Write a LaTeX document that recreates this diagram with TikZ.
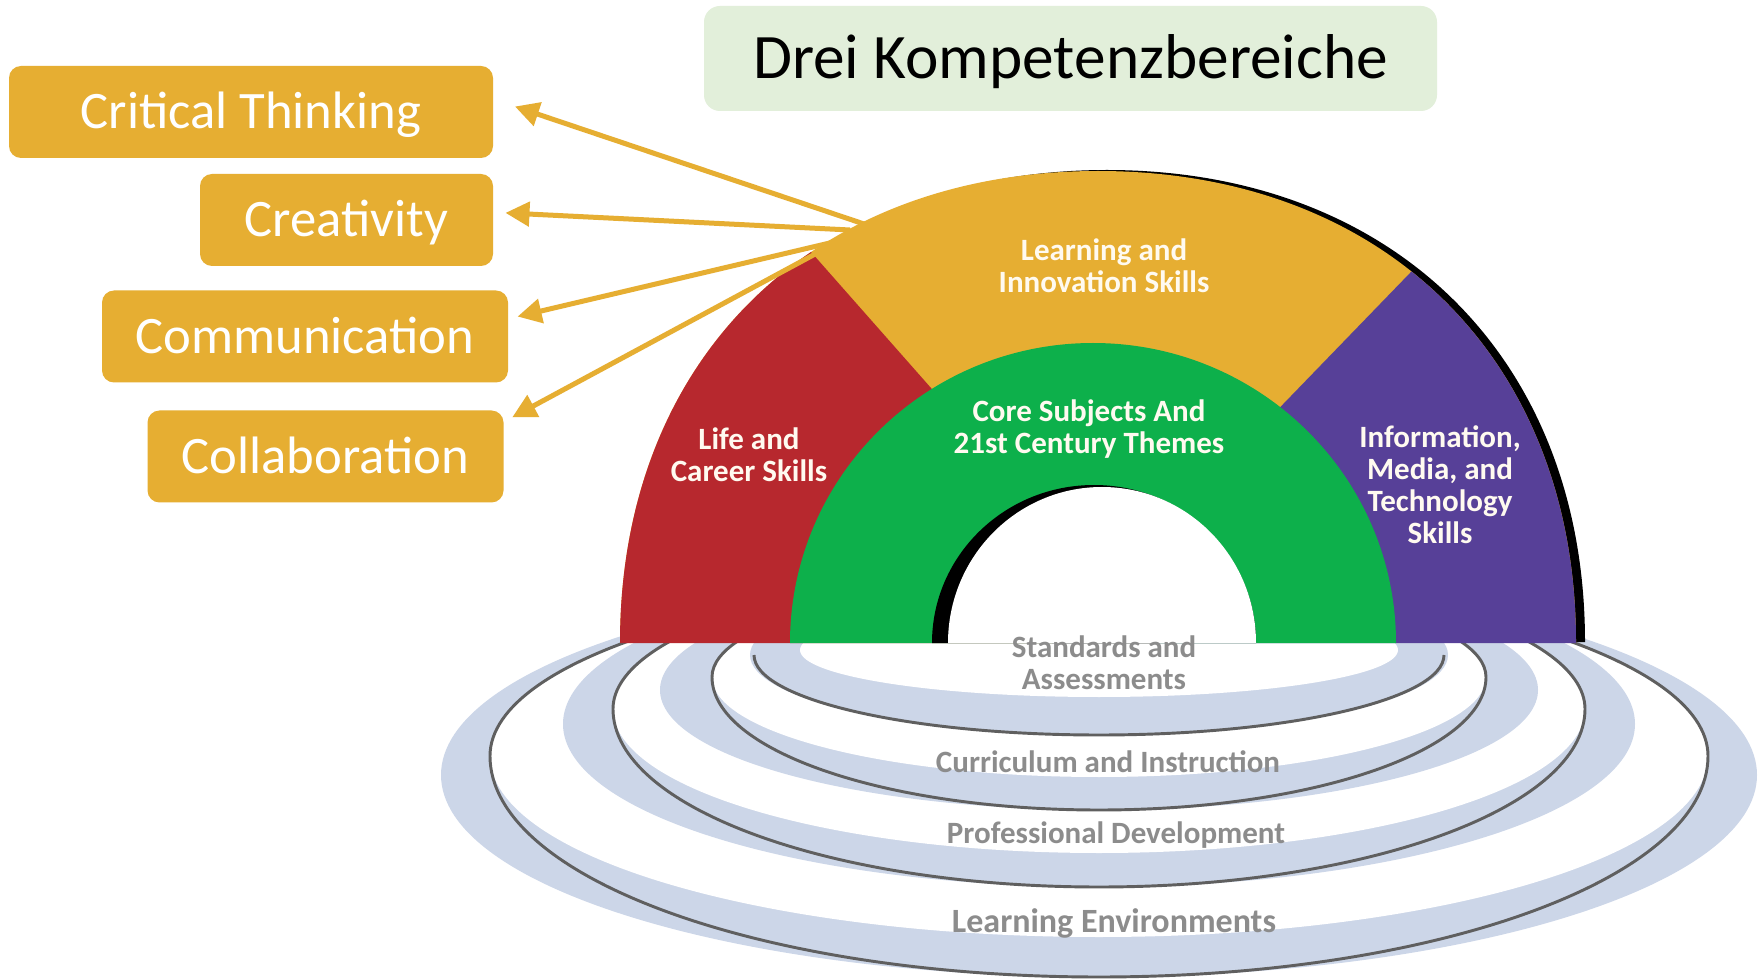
\documentclass[tikz,border=0pt]{standalone}
\usepackage{fontspec}
\setmainfont{Carlito}
\usetikzlibrary{arrows.meta}

\tikzset{every picture/.style={line width=0.75pt}}
\tikzset{
  skillbox/.style={fill={rgb, 255:red, 230; green, 174; blue, 50 }, rounded corners=9pt, inner sep=0pt, minimum height=69pt, text=white, font=\fontsize{39.5}{44}\selectfont, text height=25.4pt, text depth=0pt},
  headbox/.style={fill={rgb, 255:red, 226; green, 239; blue, 218 }, rounded corners=12pt, inner sep=0pt, minimum width=549.75pt, minimum height=78.75pt, font=\fontsize{47.5}{52}\selectfont, text height=30.6pt, text depth=0pt},
  archtext/.style={text={rgb, 255:red, 255; green, 250; blue, 240 }, align=center, inner sep=0pt, font=\fontsize{23.25}{24}\selectfont\bfseries},
  ringtext/.style={text={rgb, 255:red, 140; green, 140; blue, 140 }, align=center, inner sep=0pt, font=\fontsize{23.25}{24}\selectfont\bfseries},
  pointer/.style={draw={rgb, 255:red, 230; green, 174; blue, 50 }, fill={rgb, 255:red, 230; green, 174; blue, 50 }, line width=3.75pt, -{Triangle[length=18pt,width=18pt]}},
  ringfill/.style={fill={rgb, 255:red, 204; green, 214; blue, 232 }},
  ringedge/.style={draw={rgb, 255:red, 95; green, 95; blue, 95 }, line width=2.2pt},
}

\begin{document}
\begin{tikzpicture}[x=0.75pt,y=0.75pt,yscale=-1,xscale=1]
\useasboundingbox (0,0) rectangle (1761,980);
\fill [white] (0,0) rectangle (1761,980);

%Shape: Ring [Learning Environments]
\fill [ringfill] (1099,775) ellipse [x radius=658, y radius=202];
\fill [white] (1099,756) ellipse [x radius=609, y radius=181];
\draw [ringedge] (490,756) arc [start angle=180, end angle=0, x radius=609, y radius=221] arc [start angle=0, end angle=-180, x radius=609, y radius=181];
%Shape: Ring [Professional Development]
\fill [ringfill] (1099,724) ellipse [x radius=536, y radius=163];
\fill [white] (1099,709) ellipse [x radius=486, y radius=144];
\draw [ringedge] (613,709) arc [start angle=180, end angle=0, x radius=486, y radius=178] arc [start angle=0, end angle=-180, x radius=486, y radius=144];
%Shape: Ring [Curriculum and Instruction]
\fill [ringfill] (1099,690) ellipse [x radius=439, y radius=120];
\fill [white] (1099,677) ellipse [x radius=387, y radius=100];
\draw [ringedge] (712,677) arc [start angle=180, end angle=0, x radius=387, y radius=133] arc [start angle=0, end angle=-180, x radius=387, y radius=100];
%Shape: Ring [Standards and Assessments]
\fill [ringfill] (1099,655) ellipse [x radius=349, y radius=80];
\fill [white] (1099,650) ellipse [x radius=299, y radius=47];
\draw [ringedge] (754,655) arc [start angle=180, end angle=0, x radius=345, y radius=80];

%Shape: Arch shadow
\fill [black, shift={(9,-1)}] (620,643) .. controls (620,360) and (811,171) .. (1098,171) .. controls (1385,171) and (1576,360) .. (1576,643) -- cycle ;
%Shape: Arch sectors
\begin{scope}
\clip (620,643) .. controls (620,360) and (811,171) .. (1098,171) .. controls (1385,171) and (1576,360) .. (1576,643) -- cycle ;
\fill [fill={rgb, 255:red, 230; green, 174; blue, 50 }] (560,150) rectangle (1650,643);
\fill [fill={rgb, 255:red, 183; green, 40; blue, 46 }] (560,150) -- (721,150) -- (1156,643) -- (560,643) -- cycle ;
\fill [fill={rgb, 255:red, 87; green, 64; blue, 152 }] (1529,150) -- (1650,150) -- (1650,643) -- (1052,643) -- cycle ;
\end{scope}
%Shape: Arc [core]
\fill [fill={rgb, 255:red, 13; green, 176; blue, 75 }] (790,643) arc [start angle=180, end angle=360, x radius=303, y radius=300] -- cycle ;
%Shape: Arc [hole]
\fill [black] (932,643) arc [start angle=180, end angle=360, x radius=162, y radius=158] -- cycle ;
\fill [white] (948,643) arc [start angle=180, end angle=360, x radius=154, y radius=156] -- cycle ;

% Text Node
\draw (1104,266) node [archtext] (lis) {Learning and\\Innovation Skills};
% Text Node
\draw (1089,429) node [archtext] (core) {Core Subjects And\\21st Century Themes};
% Text Node
\draw (749,455) node [archtext] (lcs) {Life and\\Career Skills};
% Text Node
\draw (1440,485) node [archtext] (imt) {Information,\\Media, and\\Technology\\Skills};
% Text Node
\draw (1104,663) node [ringtext] (sa) {Standards and\\Assessments};
% Text Node
\draw (1108,762) node [ringtext] (ci) {Curriculum and Instruction};
% Text Node
\draw (1116,835) node [ringtext] (pd) {Professional Development};
% Text Node
\draw (1114,923) node [ringtext, font=\fontsize{25.5}{26}\selectfont\bfseries] (le) {Learning Environments};

% Title
\draw (1070.5,58.5) node [headbox] (head) {Drei Kompetenzbereiche};

% Skill boxes
\draw (251,112) node [skillbox, minimum width=363pt] (ct) {Critical Thinking};
\draw (346.5,220) node [skillbox, minimum width=219.75pt] (cr) {Creativity};
\draw (305,336.5) node [skillbox, minimum width=304.5pt] (cm) {Communication};
\draw (325.5,456.5) node [skillbox, minimum width=267pt] (cb) {Collaboration};

% Arrows
\coordinate (s1) at (867,225);
\coordinate (s2) at (850,230);
\coordinate (s3) at (834,242);
\coordinate (s4) at (830,246);
\draw [pointer, shorten >=17pt] (s1) -- (ct.3);
\draw [pointer, shorten >=9pt] (s2) -- (cr.3);
\draw [pointer, shorten >=7pt] (s3) -- (cm.5);
\draw [pointer, shorten >=7pt] (s4) -- (cb.11);

\end{tikzpicture}
\end{document}
